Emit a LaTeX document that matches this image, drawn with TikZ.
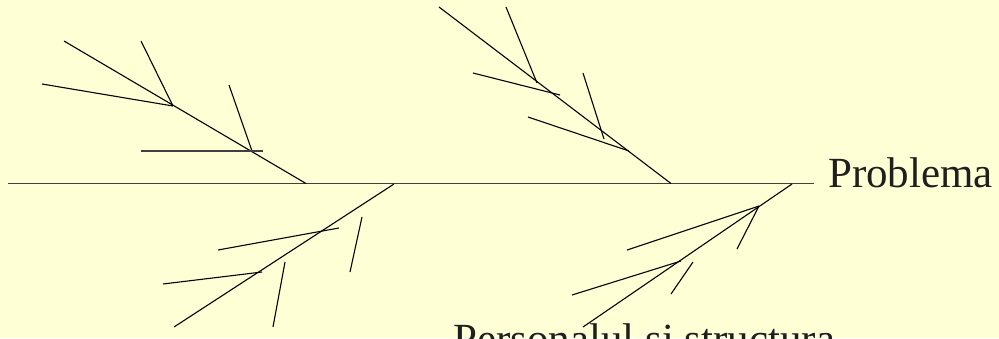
\documentclass[tikz,border=0pt]{standalone}
\usepackage{fontspec}
\setmainfont{Liberation Serif}
\definecolor{bg}{RGB}{255,255,214}
\tikzset{bone/.style={draw=black,line width=1.1pt},
  lbl/.style={font=\fontsize{43}{50}\selectfont,inner sep=0pt,text=black!88}}
\begin{document}
\begin{tikzpicture}[x=1pt,y=-1pt]
\useasboundingbox (0,0) rectangle (999,338);
\fill[bg] (0,0) rectangle (999,338);
\clip (0,0) rectangle (999,338);
% spine
\coordinate (s0) at (8,183.5);
\coordinate (s1) at (814,183.5);
\draw[bone,draw=black!75,line width=1.4pt] (s0) -- (s1);
\node[lbl,anchor=base west] (prob) at (828,187) {Problema};
\node[lbl,anchor=base west] (pers) at (453,353) {Personalul si structura};
% bone 1
\coordinate (a0) at (64,41); \coordinate (a1) at (306,183.5);
\coordinate (aj1) at (173,106); \coordinate (aj2) at (252,151);
\coordinate (a2) at (141,41); \coordinate (a3) at (42,84);
\coordinate (a4) at (229,85); \coordinate (a5) at (141,151); \coordinate (a6) at (263,151);
\draw[bone] (a0) -- (a1);
\draw[bone] (a2) -- (aj1);
\draw[bone] (a3) -- (aj1);
\draw[bone] (a4) -- (aj2);
\draw[bone,draw=black!75,line width=1.4pt] (a5) -- (a6);
% bone 2
\coordinate (b0) at (439,7); \coordinate (b1) at (671,183.5);
\coordinate (b2) at (506,7); \coordinate (bj1) at (537,83);
\coordinate (b3) at (473,73); \coordinate (b4) at (560,95);
\coordinate (b5) at (583,73); \coordinate (b6) at (604,139);
\coordinate (b7) at (528,117); \coordinate (bj2) at (629,151);
\draw[bone] (b0) -- (b1);
\draw[bone] (b2) -- (bj1);
\draw[bone] (b3) -- (b4);
\draw[bone] (b5) -- (b6);
\draw[bone] (b7) -- (bj2);
% bone 3
\coordinate (c0) at (394,184); \coordinate (c1) at (174,327);
\coordinate (c2) at (218,250); \coordinate (c3) at (339,228);
\coordinate (c4) at (163,284); \coordinate (c5) at (262,272);
\coordinate (c6) at (285,262); \coordinate (c7) at (273,327);
\coordinate (c8) at (362,217); \coordinate (c9) at (350,272);
\draw[bone] (c0) -- (c1);
\draw[bone] (c2) -- (c3);
\draw[bone] (c4) -- (c5);
\draw[bone] (c6) -- (c7);
\draw[bone] (c8) -- (c9);
% bone 4
\coordinate (d0) at (792,184); \coordinate (d1) at (583,327);
\coordinate (dj1) at (759,206); \coordinate (d2) at (627,250); \coordinate (d3) at (737,249);
\coordinate (dj2) at (681,261); \coordinate (d4) at (572,295);
\coordinate (d5) at (671,294); \coordinate (d6) at (693,262);
\draw[bone] (d0) -- (d1);
\draw[bone] (d2) -- (dj1);
\draw[bone] (d3) -- (dj1);
\draw[bone] (d4) -- (dj2);
\draw[bone] (d5) -- (d6);
\end{tikzpicture}
\end{document}
